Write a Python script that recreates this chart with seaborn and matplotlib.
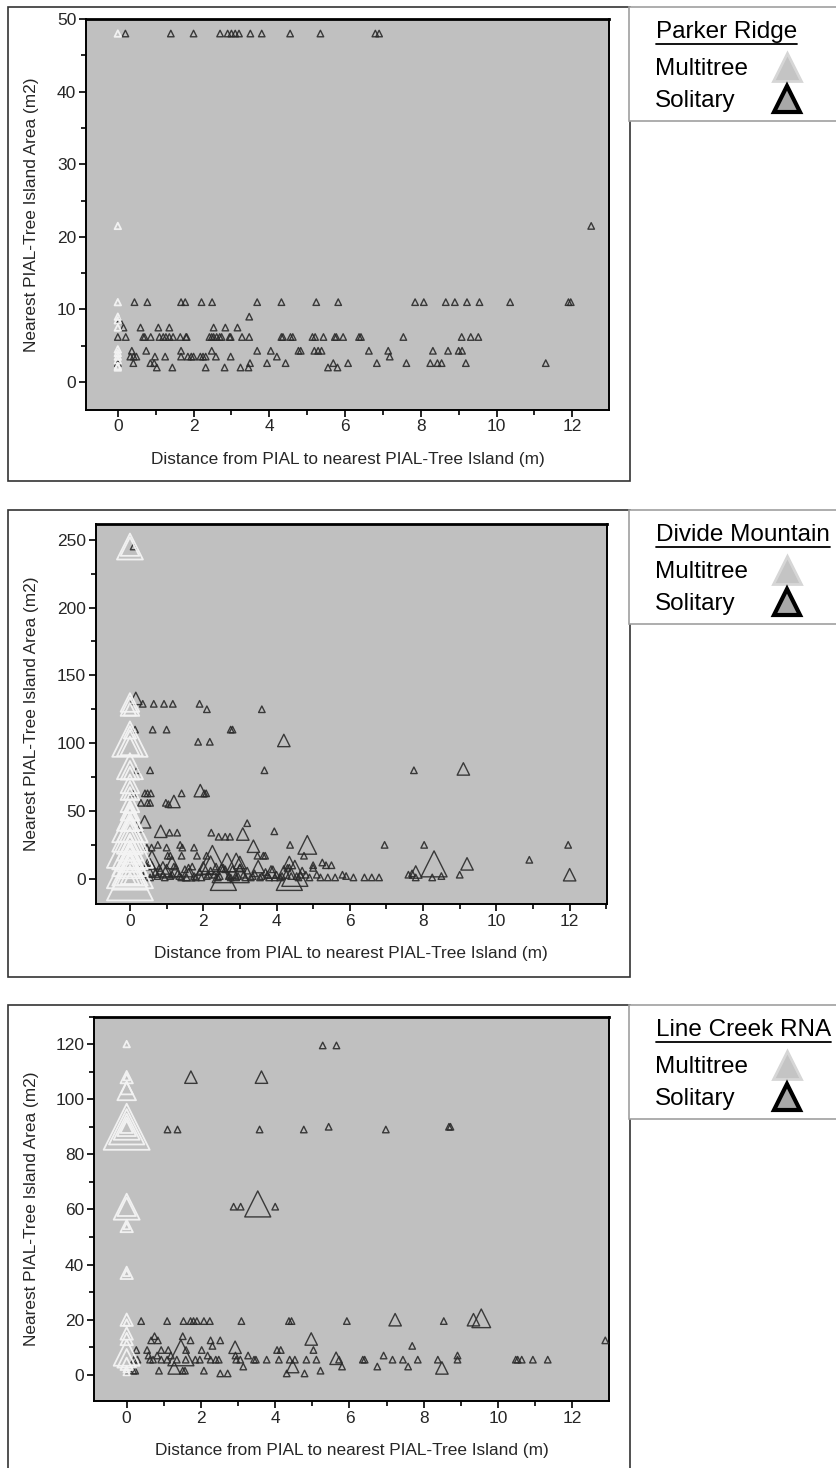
import matplotlib
matplotlib.use('Agg')
import matplotlib.pyplot as plt
from matplotlib.lines import Line2D
from matplotlib.patches import Rectangle
from matplotlib.ticker import MultipleLocator
import pandas as pd
import seaborn as sns

# ---- data: distance (m), nearest tree-island area (m2), marker class (1 = single point, larger = bigger symbol)
# Parker Ridge
pr_multi_x = [0, 0, 0, 0, 0, 0, 0, 0, 0, 0, 0, 0]
pr_multi_y = [48, 21.5, 11, 9, 8.5, 7.5, 4.5, 4.0, 3.5, 3.0, 2.2, 2.0]
pr_multi_n = [1, 1, 1, 1, 1, 1, 1, 1, 1, 1, 1, 1]

pr_sol_x = [0.2, 1.4, 2.0, 2.7, 2.9, 3.0, 3.1, 3.2, 3.5, 3.8, 4.55, 5.35, 6.8, 6.9, 12.5,
            0.44, 0.78, 1.67, 1.78, 2.21, 2.49, 3.68, 4.32, 5.24, 5.82, 7.85, 8.08, 8.66, 8.9, 9.22, 9.55, 10.36, 11.9, 11.96,
            3.47, 0.05,
            0.15, 0.6, 1.07, 1.36, 2.53, 2.84, 3.16,
            0, 0.21, 0.67, 0.71, 0.87, 1.1, 1.2, 1.27, 1.36, 1.46, 1.65, 1.8, 1.82, 2.42, 2.48, 2.53, 2.61, 2.69, 2.74,
            2.95, 2.98, 3.28, 3.47, 4.32, 4.36, 4.56, 4.62, 5.14, 5.21, 5.43, 5.73, 5.77, 5.95, 6.37, 6.42, 7.54, 9.08, 9.32, 9.52,
            0.37, 0.75, 1.67, 2.48, 3.68, 4.04, 4.77, 4.83, 5.19, 5.29, 5.38, 6.63, 7.14, 8.32, 8.72, 9.0, 9.09,
            0.33, 0.42, 0.49, 0.98, 1.25, 1.67, 1.85, 1.94, 2.0, 2.18, 2.25, 2.32, 2.59, 2.98, 4.2, 7.18,
            0.41, 0.86, 0.96, 3.49, 3.94, 4.43, 5.69, 6.08, 6.84, 7.62, 8.25, 8.44, 8.55, 9.19, 11.3, 0.0,
            1.03, 1.44, 2.32, 3.24, 3.45, 5.55, 5.8, 2.82]
pr_sol_y = [48] * 14 + [21.5] + \
           [11] * 19 + \
           [9, 8.5] + \
           [7.5] * 7 + \
           [6.2] * 39 + \
           [4.3] * 17 + \
           [3.5] * 16 + \
           [2.6] * 16 + \
           [2.0] * 8
pr_sol_n = [1] * len(pr_sol_x)

# Divide Mountain
dm_multi_x = [0] * 41
dm_multi_y = [245, 245, 130, 127, 125, 108, 103, 100, 98, 83, 80, 78, 65, 63, 56, 53,
              45, 42, 40, 33, 28, 25, 20, 15, 12, 8, 5, 3, 1, 0, 18, 10, 37, 70, 50, 23,
              10, 25, 40, 5, 15]
dm_multi_n = [4, 3, 3, 3, 2, 2, 5, 4, 3, 4, 3, 2, 3, 2, 3, 2,
              4, 3, 2, 5, 4, 3, 5, 4, 3, 5, 4, 3, 6, 2, 3, 4, 4, 3, 3, 4,
              6, 6, 5, 5, 5]

dm_sol_x = [0.1,
            0.16, 0.35, 0.65, 0.93, 1.17, 1.9, 2.1, 3.6,
            0.14, 0.62, 1.0, 2.75, 2.8,
            1.86, 2.18, 4.2,
            0.19, 0.55, 3.67, 7.75, 9.1,
            0.09, 0.41, 0.48, 0.57, 1.41, 1.92, 2.03, 2.08,
            0.3, 0.48, 0.55, 0.98, 1.05, 1.2,
            0.4, 0.19, 0.27, 3.2,
            0.84, 1.08, 1.29, 2.22, 2.42, 2.6, 2.73, 3.08, 3.94,
            0.46, 0.59, 0.76, 1.0, 1.37, 1.43, 1.75, 4.37, 6.95, 8.03, 11.96, 3.37, 4.84,
            1.03, 1.1, 1.41, 1.83, 2.09, 3.48, 3.64, 3.69, 4.75,
            2.25, 2.65, 2.9, 4.35, 8.3, 9.2, 10.9, 0.6, 1.15, 5.25, 5.35, 5.5, 5.0, 3.0,
            0.3, 0.45, 0.5, 0.6, 0.7, 0.8, 0.9, 1.0, 1.1, 1.2, 1.3, 1.4, 1.5, 1.6, 1.7, 1.8, 1.9, 2.0,
            2.1, 2.2, 2.3, 2.35, 2.4, 2.5, 2.6, 2.7, 2.8, 2.9, 3.0, 3.1, 3.2, 3.3, 3.4, 3.5, 3.6, 3.7,
            3.8, 3.9, 4.0, 4.1, 4.2, 4.3, 4.4, 4.5, 4.6, 4.7, 4.8, 4.9, 5.0, 5.1, 5.2, 5.4, 5.6, 5.8,
            5.9, 6.1, 6.4, 6.6, 6.8, 7.6, 7.7, 7.8, 7.8, 8.25, 8.5, 9.0, 12.0,
            2.55, 4.35, 0.55, 1.25, 0.9, 1.6, 3.0, 3.85, 2.2,
            0.35, 0.55, 0.75, 0.95, 1.15, 1.35, 1.55, 1.75, 1.95, 2.15, 2.45, 2.75, 2.95, 3.15,
            3.35, 3.55, 3.75, 3.95, 4.15, 4.55, 4.65]
dm_sol_y = [245,
            133, 129, 129, 129, 129, 129, 125, 125,
            110, 110, 110, 110, 110,
            101, 101, 102,
            80, 80, 80, 80, 81,
            63, 63, 63, 63, 63, 65, 63, 63,
            56, 56, 56, 56, 55, 57,
            42, 40, 37, 41,
            35, 34, 34, 34, 31, 31, 31, 33, 35,
            23, 23, 25, 23, 25, 23, 23, 25, 25, 25, 25, 24, 25,
            17, 17, 17, 17, 17, 17, 17, 17, 17,
            15, 12, 12, 12, 11, 11, 14, 14, 12, 12, 10, 10, 10, 12,
            8, 9, 6, 10, 5, 8, 3, 6, 2, 9, 4, 1, 7, 3, 9, 1, 5, 8,
            2, 6, 3, 9, 1, 4, 7, 2, 5, 1, 8, 3, 6, 1, 4, 9, 2, 5,
            1, 7, 3, 1, 5, 8, 2, 4, 1, 6, 3, 1, 8, 3, 1, 1, 1, 3,
            2, 1, 1, 1, 1, 3, 4, 1, 5, 1, 2, 3, 3,
            1, 1, 8, 6, 8, 6, 4, 5, 10,
            2, 1, 2, 1, 3, 2, 1, 2, 1, 3, 2, 1, 2, 1,
            2, 1, 3, 1, 2, 2, 3]
dm_sol_n = [1,
            2, 1, 1, 1, 1, 1, 1, 1,
            1, 1, 1, 1, 1,
            1, 1, 2,
            1, 1, 1, 1, 2,
            1, 1, 1, 1, 1, 2, 1, 1,
            1, 1, 1, 1, 1, 2,
            2, 1, 1, 1,
            2, 1, 1, 1, 1, 1, 1, 2, 1,
            1, 1, 1, 1, 1, 1, 1, 1, 1, 1, 1, 2, 3,
            1, 1, 1, 1, 1, 1, 1, 1, 1,
            4, 3, 3, 2, 4, 2, 1, 3, 2, 1, 1, 1, 1, 2,
            1, 1, 2, 1, 1, 1, 1, 2, 1, 1, 1, 1, 1, 2, 1, 1, 1, 2,
            1, 1, 1, 1, 1, 3, 1, 1, 2, 1, 1, 1, 1, 1, 1, 2, 1, 1,
            1, 1, 1, 1, 2, 1, 1, 4, 1, 1, 1, 1, 1, 1, 1, 1, 1, 1,
            1, 1, 1, 1, 1, 1, 1, 1, 2, 1, 1, 1, 2,
            4, 4, 3, 2, 2, 2, 3, 2, 3,
            1, 1, 1, 1, 1, 1, 1, 1, 1, 1, 1, 1, 1, 1,
            1, 1, 1, 1, 1, 1, 1]

# Line Creek RNA
lc_multi_x = [0] * 25
lc_multi_y = [120, 108, 108, 103, 104, 90, 90, 90, 90, 90, 61, 61, 54, 54, 37, 37,
              20, 19, 15, 13, 8, 6, 4, 1, 2]
lc_multi_n = [1, 2, 1, 3, 2, 6, 5, 4, 3, 2, 4, 3, 2, 1, 2, 1,
              2, 1, 2, 2, 4, 3, 2, 1, 1]

lc_sol_x = [5.28, 5.65, 1.73, 3.63,
            1.1, 1.37, 3.58, 4.77, 5.44, 6.98, 8.68, 8.72,
            2.88, 3.07, 4.0, 3.53,
            0.39, 1.09, 1.53, 1.72, 1.8, 1.89, 2.08, 2.24, 3.09, 4.37, 4.44, 5.93, 8.54, 7.23, 9.34, 9.55,
            0.75, 1.51, 0.66, 0.84, 1.72, 2.26, 2.52, 12.89, 4.97,
            2.31, 7.69,
            0.26, 0.55, 0.93, 1.12, 1.6, 2.02, 4.05, 4.15, 5.03, 2.92,
            0.59, 0.82, 1.19, 2.18, 2.93, 3.27, 6.92, 8.91, 1.46, 5.64,
            0.2, 0.29, 0.63, 0.71, 0.93, 1.09, 1.35, 1.59, 1.85, 1.97, 2.26, 2.4, 2.48, 2.95, 3.06, 3.43, 3.48, 3.77,
            4.1, 4.39, 4.53, 4.84, 5.11, 5.72, 6.36, 6.41, 7.16, 7.44, 7.84, 8.38, 8.91, 10.48, 10.53, 10.64, 10.94, 11.34,
            1.28, 3.14, 5.8, 6.75, 4.47, 7.58, 8.49,
            0.02, 0.18, 0.23, 1.51, 1.57, 2.08, 5.22, 0.87,
            2.52, 2.72, 4.31, 4.79]
lc_sol_y = [119.5, 119.5, 108, 108,
            89, 89, 89, 89, 90, 89, 90, 90,
            61, 61, 61, 62,
            19.5, 19.5, 19.5, 19.5, 19.5, 19.5, 19.5, 19.5, 19.5, 19.5, 19.5, 19.5, 19.5, 20, 20, 20.5,
            14, 14, 12.5, 12.5, 12.5, 12.5, 12.5, 12.5, 13,
            10.5, 10.5,
            9, 9, 9, 9, 9, 9, 9, 9, 9, 10,
            7, 7, 7, 7, 7, 7, 7, 7, 8, 6,
            5.5, 5.5, 5.5, 5.5, 5.5, 5.5, 5.5, 5.5, 5.5, 5.5, 5.5, 5.5, 5.5, 5.5, 5.5, 5.5, 5.5, 5.5,
            5.5, 5.5, 5.5, 5.5, 5.5, 5.5, 5.5, 5.5, 5.5, 5.5, 5.5, 5.5, 5.5, 5.5, 5.5, 5.5, 5.5, 5.5,
            2.5, 3, 3, 3, 3, 3, 2.5,
            1.5, 1.5, 1.5, 1.5, 1.5, 1.5, 1.5, 1.5,
            0.5, 0.5, 0.5, 0.5]
lc_sol_n = [1, 1, 2, 2,
            1, 1, 1, 1, 1, 1, 1, 1,
            1, 1, 1, 4,
            1, 1, 1, 1, 1, 1, 1, 1, 1, 1, 1, 1, 1, 2, 2, 3,
            1, 1, 1, 1, 1, 1, 1, 1, 2,
            1, 1,
            1, 1, 1, 1, 1, 1, 1, 1, 1, 2,
            1, 1, 1, 1, 1, 1, 1, 1, 4, 2,
            1, 1, 1, 1, 1, 1, 1, 1, 1, 1, 1, 1, 1, 1, 1, 1, 1, 1,
            1, 1, 1, 1, 1, 1, 1, 1, 1, 1, 1, 1, 1, 1, 1, 1, 1, 1,
            2, 1, 1, 1, 2, 1, 2,
            1, 1, 1, 1, 1, 1, 1, 1,
            1, 1, 1, 1]

site_names = ['Parker Ridge', 'Divide Mountain', 'Line Creek RNA']
x_label = 'Distance from PIAL to nearest PIAL-Tree Island (m)'
y_label = 'Nearest PIAL-Tree Island Area (m2)'

# ---- figure layout (pixel geometry of the 836 x 1468 canvas)
W, H = 836, 1468
FONT = ['Liberation Sans', 'DejaVu Sans']
sns.set_style('white')
plt.rcParams['font.family'] = FONT

fig = plt.figure(figsize=(W / 100, H / 100), dpi=100)


def fx(px):
    return px / W


def fy(py):
    return 1 - py / H


size_map = {1: 22, 2: 80, 3: 180, 4: 350, 5: 650, 6: 1100}

panels = [
    dict(box=(8, 7, 630, 481), ax=(86, 19, 609, 409.6), xlim=(-0.84, 12.97), ylim=(-3.8, 50),
         ymaj=10, ymin=5, multi=(pr_multi_x, pr_multi_y, pr_multi_n), sol=(pr_sol_x, pr_sol_y, pr_sol_n),
         leg_y=7),
    dict(box=(8, 510, 630, 977), ax=(95.5, 524, 607, 904), xlim=(-0.94, 13.02), ylim=(-18.6, 261.6),
         ymaj=50, ymin=25, multi=(dm_multi_x, dm_multi_y, dm_multi_n), sol=(dm_sol_x, dm_sol_y, dm_sol_n),
         leg_y=510),
    dict(box=(8, 1005, 630, 1475), ax=(94, 1016.5, 609, 1401), xlim=(-0.88, 12.99), ylim=(-9.5, 130),
         ymaj=20, ymin=10, multi=(lc_multi_x, lc_multi_y, lc_multi_n), sol=(lc_sol_x, lc_sol_y, lc_sol_n),
         leg_y=1005),
]

for name, p in zip(site_names, panels):
    # outer frame around plot + labels
    bx0, by0, bx1, by1 = p['box']
    fig.add_artist(Rectangle((fx(bx0), fy(by1)), fx(bx1 - bx0), (by1 - by0) / H,
                             transform=fig.transFigure, fill=False, edgecolor='#333333', linewidth=1.2))

    ax0, ay0, ax1_, ay1 = p['ax']
    ax = fig.add_axes([fx(ax0), fy(ay1), fx(ax1_ - ax0), (ay1 - ay0) / H])
    ax.set_facecolor('#c0c0c0')

    sx, sy, sn = p['sol']
    df_sol = pd.DataFrame({'dist': sx, 'area': sy, 'n': sn})
    mx, my, mn = p['multi']
    df_multi = pd.DataFrame({'dist': mx, 'area': my, 'n': mn})

    sns.scatterplot(data=df_sol, x='dist', y='area', size='n', sizes=size_map, marker='^',
                    color='#2a2a2a', facecolor='none', edgecolor='#2a2a2a', linewidth=1.0,
                    alpha=0.9, legend=False, ax=ax, zorder=3)
    sns.scatterplot(data=df_multi, x='dist', y='area', size='n', sizes=size_map, marker='^',
                    color='#f4f4f4', facecolor='none', edgecolor='#f4f4f4', linewidth=1.3,
                    alpha=0.95, legend=False, ax=ax, zorder=4)

    ax.set_xlim(*p['xlim'])
    ax.set_ylim(*p['ylim'])
    ax.xaxis.set_major_locator(MultipleLocator(2))
    ax.xaxis.set_minor_locator(MultipleLocator(1))
    ax.yaxis.set_major_locator(MultipleLocator(p['ymaj']))
    ax.yaxis.set_minor_locator(MultipleLocator(p['ymin']))
    ax.tick_params(which='major', direction='out', length=5, width=1.2, color='black',
                   labelsize=12.5, pad=2, left=True, bottom=True)
    ax.tick_params(which='minor', direction='out', length=3.5, width=1.2, color='black',
                   left=True, bottom=True)
    for side in ['top', 'right', 'left', 'bottom']:
        ax.spines[side].set_color('black')
        ax.spines[side].set_linewidth(1.4)
    ax.spines['top'].set_linewidth(2)

    ax.set_xlabel(x_label, fontsize=12.4)
    ax.set_ylabel(y_label, fontsize=12.4)
    h = ay1 - ay0
    w = ax1_ - ax0
    ax.xaxis.set_label_coords(0.5, -42 / h)
    ax.yaxis.set_label_coords(-(ax0 - 39) / w, 0.5)

    # legend box to the right
    ly = p['leg_y']
    fig.add_artist(Rectangle((fx(629), fy(ly + 114)), fx(220), 114 / H, transform=fig.transFigure,
                             fill=True, facecolor='white', edgecolor='#a0a0a0', linewidth=1.2))
    t = fig.text(fx(656), fy(ly + 25), name, fontsize=17.5, ha='left', va='center', color='black')
    fig.canvas.draw()
    bb = t.get_window_extent()
    fig.add_artist(Line2D([bb.x0 / W, min(bb.x1, W + 20) / W], [fy(ly + 37), fy(ly + 37)],
                          transform=fig.transFigure, color='black', linewidth=1.3))
    fig.text(fx(655), fy(ly + 62), 'Multitree', fontsize=17.5, ha='left', va='center', color='black')
    fig.text(fx(655), fy(ly + 94), 'Solitary', fontsize=17.5, ha='left', va='center', color='black')
    fig.add_artist(Line2D([fx(787)], [fy(ly + 60)], transform=fig.transFigure, marker='^',
                          markersize=20, markerfacecolor='#c4c4c4', markeredgecolor='#d6d6d6',
                          markeredgewidth=2, linestyle='none'))
    fig.add_artist(Line2D([fx(787)], [fy(ly + 92)], transform=fig.transFigure, marker='^',
                          markersize=19, markerfacecolor='#a8a8a8', markeredgecolor='black',
                          markeredgewidth=3, linestyle='none'))

fig.savefig('out.png', dpi=100)
